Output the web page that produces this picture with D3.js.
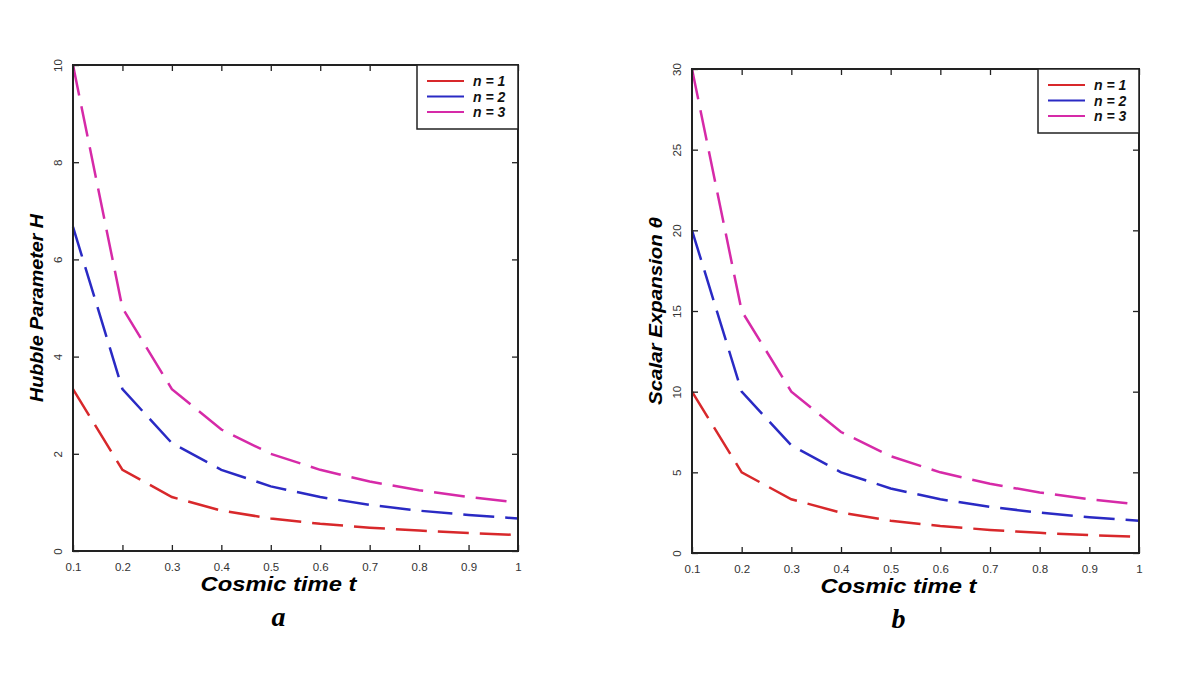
<!DOCTYPE html>
<html>
<head>
<meta charset="utf-8">
<script src="https://cdn.jsdelivr.net/npm/d3@7"></script>
<style>
  body { margin: 0; background: #fff; }
  svg { display: block; }
  .tick text { font-family: 'Liberation Sans', Arial, sans-serif; font-size: 11.5px; fill: #333; }
</style>
</head>
<body>
<script>
var times = [0.1, 0.2, 0.3, 0.4, 0.5, 0.6, 0.7, 0.8, 0.9, 1.0];
var seriesNames = ['n = 1', 'n = 2', 'n = 3'];
var colors = ['#d8282b', '#2a2ac4', '#d62aa8'];

// hubble parameter H, panel a
var hubbleN1 = [3.33, 1.67, 1.11, 0.83, 0.67, 0.56, 0.48, 0.42, 0.37, 0.33];
var hubbleN2 = [6.67, 3.33, 2.22, 1.67, 1.33, 1.11, 0.95, 0.83, 0.74, 0.67];
var hubbleN3 = [10, 5, 3.33, 2.5, 2, 1.67, 1.43, 1.25, 1.11, 1];

// scalar expansion theta, panel b
var thetaN1 = [10, 5, 3.33, 2.5, 2, 1.67, 1.43, 1.25, 1.11, 1];
var thetaN2 = [20, 10, 6.67, 5, 4, 3.33, 2.86, 2.5, 2.22, 2];
var thetaN3 = [30, 15, 10, 7.5, 6, 5, 4.29, 3.75, 3.33, 3];

var xTicks = [0.1, 0.2, 0.3, 0.4, 0.5, 0.6, 0.7, 0.8, 0.9, 1];
var hubbleTicks = [0, 2, 4, 6, 8, 10];
var thetaTicks = [0, 5, 10, 15, 20, 25, 30];

var svg = d3.select('body').append('svg').attr('width', 1196).attr('height', 678);

drawPanel({ left: 73, right: 518, top: 65, bottom: 551, yMax: 10, yTicks: hubbleTicks,
    series: [hubbleN1, hubbleN2, hubbleN3], ylabel: 'Hubble Parameter H', ylabelX: 36, letter: 'a' });
drawPanel({ left: 692, right: 1139, top: 69, bottom: 553, yMax: 30, yTicks: thetaTicks,
    series: [thetaN1, thetaN2, thetaN3], ylabel: 'Scalar Expansion \u03b8', ylabelX: 655, letter: 'b' });

function drawPanel(c) {
    var x = d3.scaleLinear().domain([0.1, 1]).range([c.left, c.right]);
    var y = d3.scaleLinear().domain([0, c.yMax]).range([c.bottom, c.top]);
    var g = svg.append('g');

    // curves
    var line = d3.line().x(function(d) { return x(d[0]); }).y(function(d) { return y(d[1]); });
    c.series.forEach(function(vals, i) {
        g.append('path')
            .datum(times.map(function(t, j) { return [t, vals[j]]; }))
            .attr('d', line)
            .attr('fill', 'none')
            .attr('stroke', colors[i])
            .attr('stroke-width', 2.5)
            .attr('stroke-dasharray', '31,11');
    });

    // axes, ticks inward on all four sides
    var fmt = function(d) { return d === 1 ? '1' : d; };
    g.append('g').attr('transform', 'translate(0,' + c.bottom + ')')
        .call(d3.axisBottom(x).tickValues(xTicks).tickSize(-6).tickPadding(12).tickFormat(fmt));
    g.append('g').attr('transform', 'translate(0,' + c.top + ')')
        .call(d3.axisTop(x).tickValues(xTicks).tickSize(-6).tickFormat(''));
    var yl = g.append('g').attr('transform', 'translate(' + c.left + ',0)')
        .call(d3.axisLeft(y).tickValues(c.yTicks).tickSize(-6).tickPadding(0).tickFormat(d3.format('d')));
    yl.selectAll('.tick text')
        .attr('text-anchor', 'middle')
        .attr('x', 0).attr('dy', 0)
        .attr('transform', 'translate(-11,0) rotate(-90)');
    g.append('g').attr('transform', 'translate(' + c.right + ',0)')
        .call(d3.axisRight(y).tickValues(c.yTicks).tickSize(-6).tickFormat(''));
    g.selectAll('.domain').remove();
    g.selectAll('.tick line').attr('stroke', '#222').attr('stroke-width', 1.3);

    g.append('rect')
        .attr('x', c.left).attr('y', c.top)
        .attr('width', c.right - c.left).attr('height', c.bottom - c.top)
        .attr('fill', 'none').attr('stroke', '#222').attr('stroke-width', 2);

    // legend
    var lw = 101, lh = 64;
    var lg = g.append('g').attr('transform', 'translate(' + (c.right - lw) + ',' + c.top + ')');
    lg.append('rect').attr('width', lw).attr('height', lh)
        .attr('fill', '#fff').attr('stroke', '#222').attr('stroke-width', 1.5);
    seriesNames.forEach(function(name, i) {
        var yy = 16 + i * 15.5;
        lg.append('line').attr('x1', 10).attr('x2', 47).attr('y1', yy).attr('y2', yy)
            .attr('stroke', colors[i]).attr('stroke-width', 2);
        lg.append('text').attr('x', 56).attr('y', yy + 5).text(name)
            .style('font-family', "'Liberation Sans', Arial, sans-serif")
            .style('font-size', '14px').style('font-weight', 'bold').style('font-style', 'italic')
            .attr('fill', '#111');
    });

    // axis labels
    g.append('text')
        .attr('x', (c.left + c.right) / 2 - 17).attr('y', c.bottom + 40)
        .attr('text-anchor', 'middle').text('Cosmic time t')
        .attr('textLength', 156).attr('lengthAdjust', 'spacingAndGlyphs')
        .style('font-family', "'Liberation Sans', Arial, sans-serif")
        .style('font-size', '20px').style('font-weight', 'bold').style('font-style', 'italic');
    g.append('text')
        .attr('transform', 'translate(' + (c.ylabelX + 7) + ',' + ((c.top + c.bottom) / 2) + ') rotate(-90)')
        .attr('text-anchor', 'middle').text(c.ylabel)
        .attr('textLength', 188).attr('lengthAdjust', 'spacingAndGlyphs')
        .style('font-family', "'Liberation Sans', Arial, sans-serif")
        .style('font-size', '19px').style('font-weight', 'bold').style('font-style', 'italic');
    g.append('text')
        .attr('x', (c.left + c.right) / 2 - 17).attr('y', c.bottom + 75)
        .attr('text-anchor', 'middle').text(c.letter)
        .style('font-family', "'Liberation Serif', 'Times New Roman', serif")
        .style('font-size', '28px').style('font-style', 'italic').style('font-weight', 'bold');
}
</script>
</body>
</html>
